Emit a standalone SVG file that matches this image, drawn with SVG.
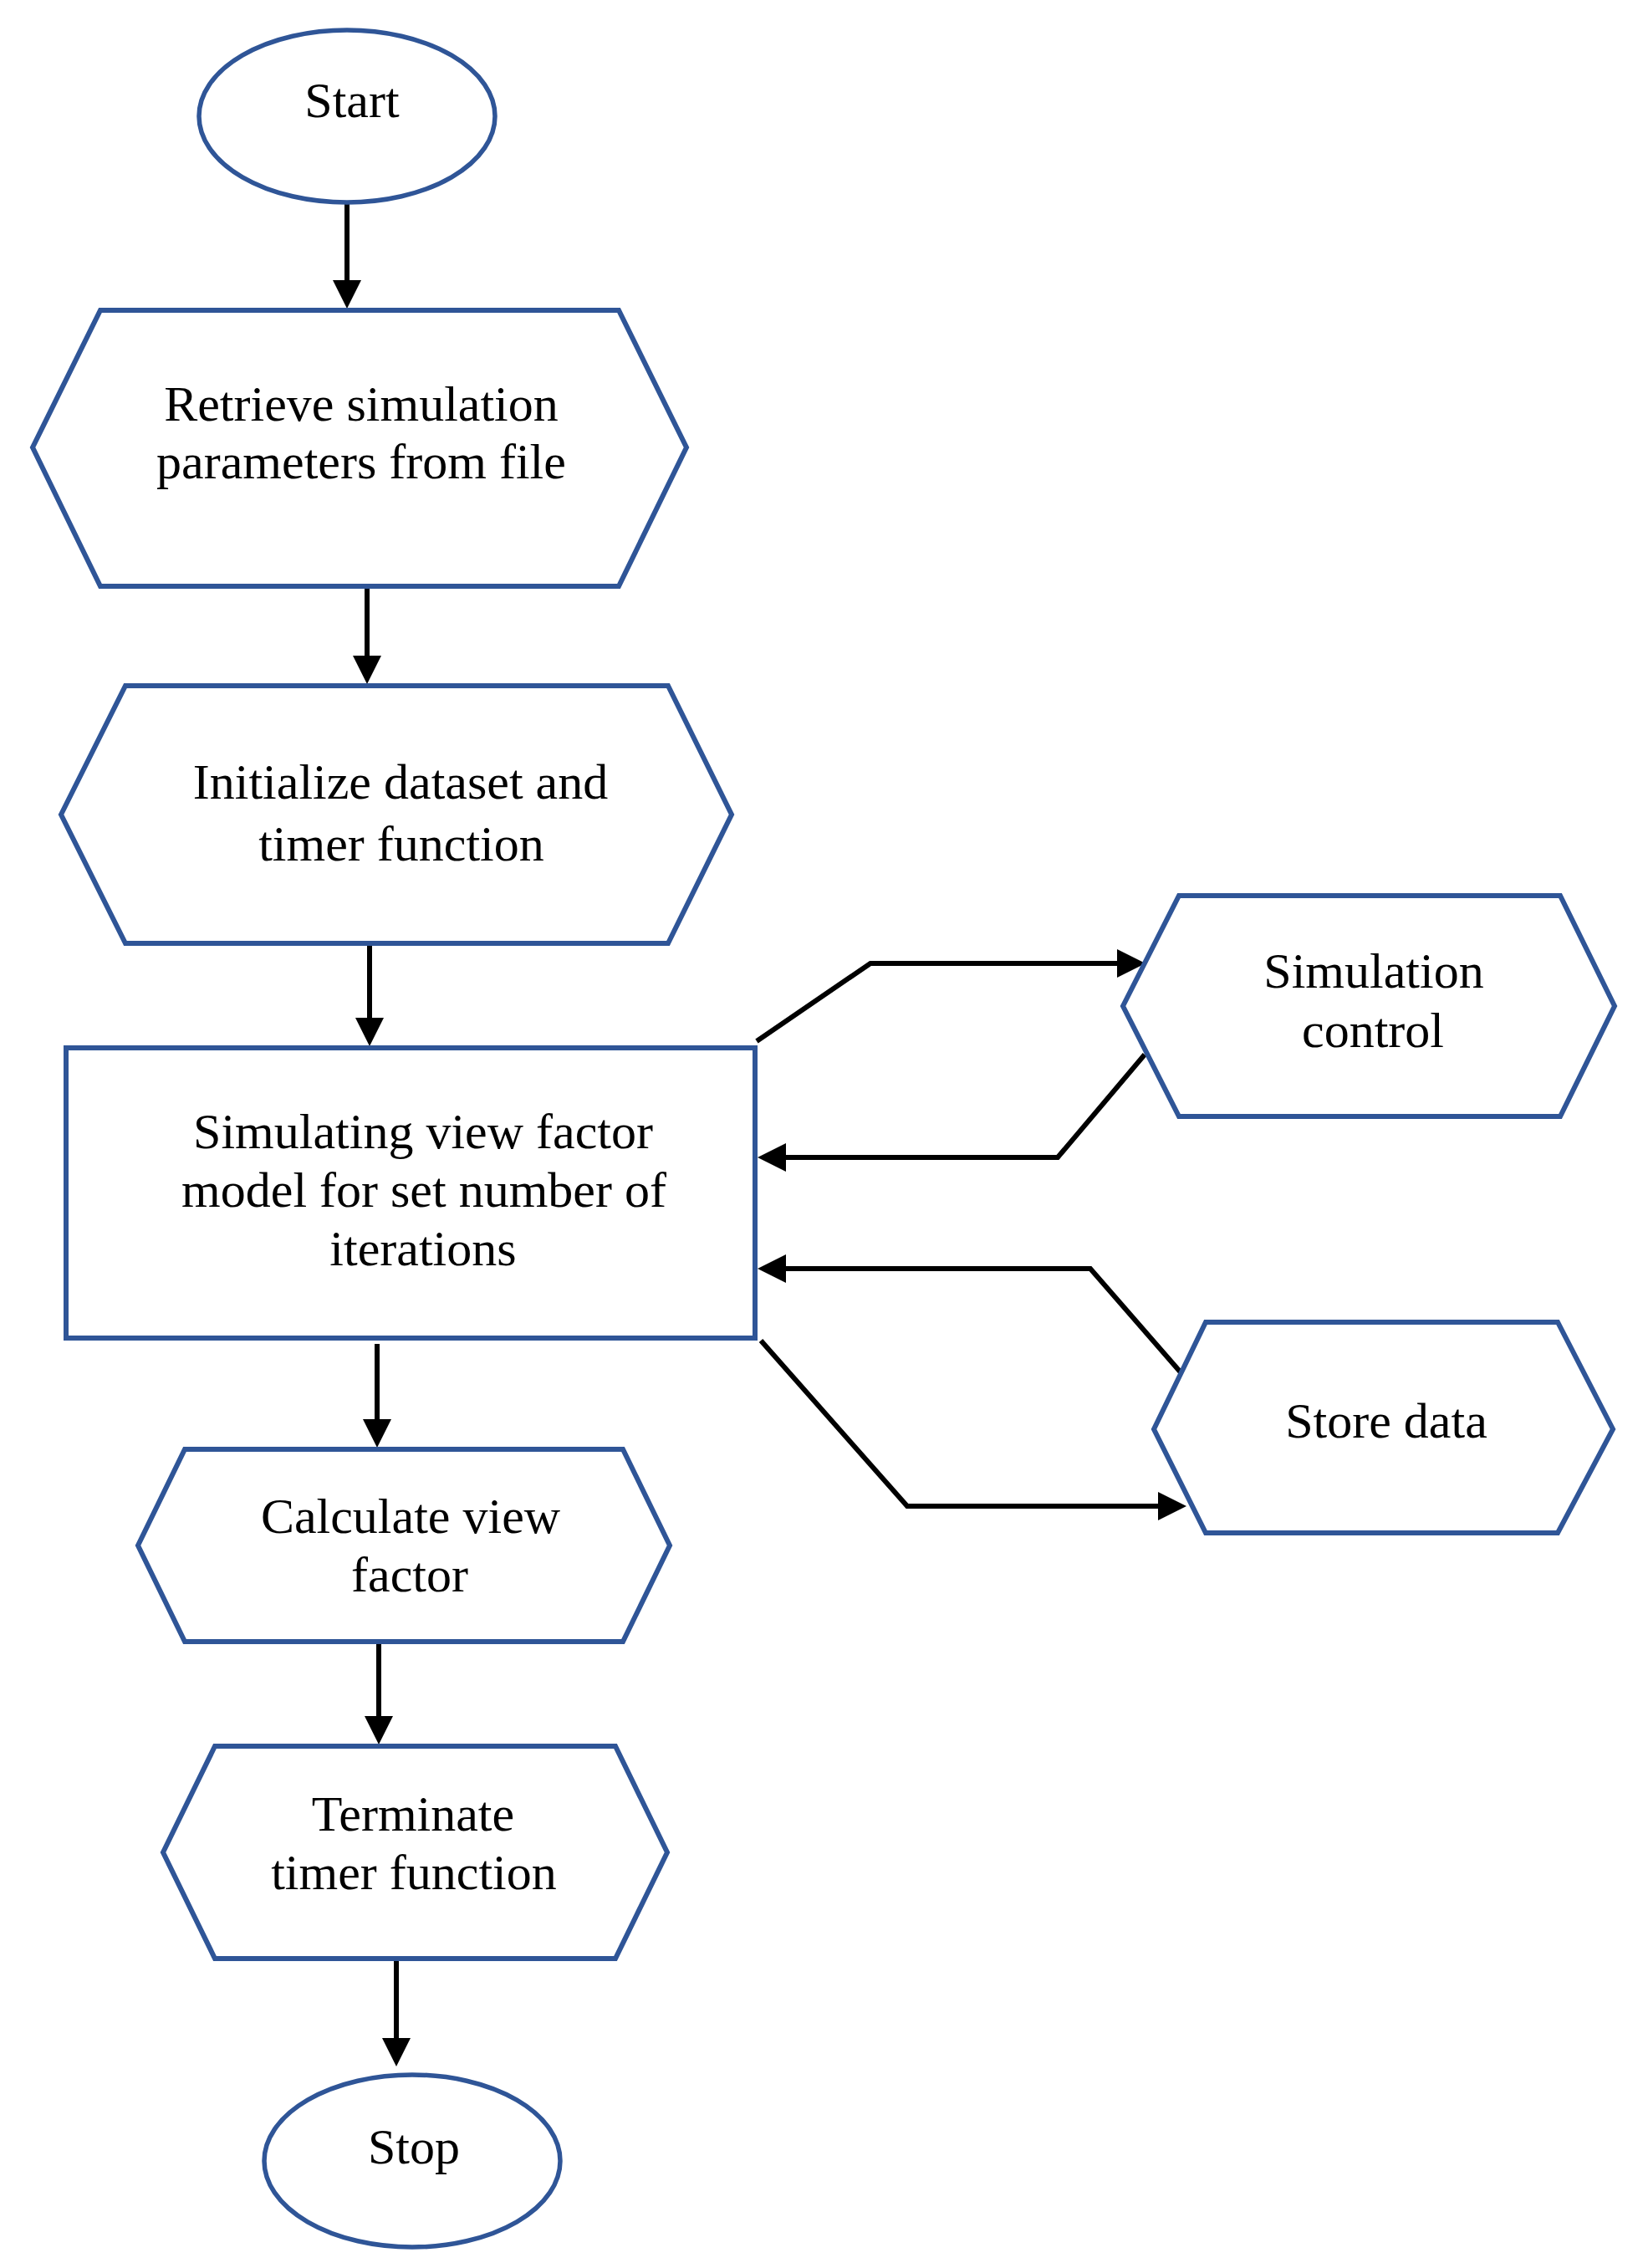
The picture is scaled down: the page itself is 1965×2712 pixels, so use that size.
<svg xmlns="http://www.w3.org/2000/svg" width="1965" height="2712" viewBox="0 0 1965 2712">
<style>
.node{fill:#ffffff;stroke:#2F5597;stroke-width:6;stroke-linejoin:miter}
.term{fill:#ffffff;stroke:#2F5597;stroke-width:5.5}
.lbl{font-family:"Liberation Serif","Times New Roman",serif;font-size:60px;fill:#000000;text-anchor:middle}
.conn{fill:none;stroke:#000000;stroke-width:6;stroke-linejoin:miter}
</style>
<defs>
<marker id="ah" markerUnits="userSpaceOnUse" markerWidth="34" markerHeight="34" refX="0" refY="17" orient="auto" viewBox="0 0 34 34">
<path d="M0,0 L34,17 L0,34 Z" fill="#000000"/>
</marker>
</defs>
<rect width="1965" height="2712" fill="#ffffff"/>
<g id="connectors">
<path class="conn" d="M415,242 L415,335" marker-end="url(#ah)"/>
<path class="conn" d="M439,701 L439,784" marker-end="url(#ah)"/>
<path class="conn" d="M442,1128 L442,1217" marker-end="url(#ah)"/>
<path class="conn" d="M451,1607 L451,1697" marker-end="url(#ah)"/>
<path class="conn" d="M453,1963 L453,2052" marker-end="url(#ah)"/>
<path class="conn" d="M474,2342 L474,2437" marker-end="url(#ah)"/>
<path class="conn" d="M905,1245 L1041,1152 L1336,1152" marker-end="url(#ah)"/>
<path class="conn" d="M1369,1261 L1265,1384 L940,1384" marker-end="url(#ah)"/>
<path class="conn" d="M1412,1641 L1304,1517 L940,1517" marker-end="url(#ah)"/>
<path class="conn" d="M910,1603 L1085,1801 L1385,1801" marker-end="url(#ah)"/>
</g>
<g id="start">
<ellipse class="term" cx="415" cy="139" rx="177" ry="103"/>
<text class="lbl" x="421" y="140">Start</text>
</g>
<g id="retrieve">
<polygon class="node" points="39,535 120,371 740,371 821,535 740,701 120,701"/>
<text class="lbl" x="432" y="503">Retrieve simulation</text>
<text class="lbl" x="432" y="572">parameters from file</text>
</g>
<g id="initialize">
<polygon class="node" points="73,974 150,820 799,820 875,974 799,1128 150,1128"/>
<text class="lbl" x="479" y="955">Initialize dataset and</text>
<text class="lbl" x="480" y="1029">timer function</text>
</g>
<g id="simulate">
<rect class="node" x="79" y="1253" width="824" height="347"/>
<text class="lbl" x="506" y="1373">Simulating view factor</text>
<text class="lbl" x="507" y="1443">model for set number of</text>
<text class="lbl" x="506" y="1513">iterations</text>
</g>
<g id="calculate">
<polygon class="node" points="165,1848 221,1733 745,1733 801,1848 745,1963 221,1963"/>
<text class="lbl" x="491" y="1833">Calculate view</text>
<text class="lbl" x="490" y="1903">factor</text>
</g>
<g id="terminate">
<polygon class="node" points="195,2215 257,2088 736,2088 798,2215 736,2342 257,2342"/>
<text class="lbl" x="494" y="2189">Terminate</text>
<text class="lbl" x="495" y="2259">timer function</text>
</g>
<g id="stop">
<ellipse class="term" cx="493" cy="2584" rx="177" ry="103"/>
<text class="lbl" x="495" y="2587">Stop</text>
</g>
<g id="simcontrol">
<polygon class="node" points="1343,1203 1410,1071 1866,1071 1931,1203 1866,1335 1410,1335"/>
<text class="lbl" x="1643" y="1181">Simulation</text>
<text class="lbl" x="1642" y="1252">control</text>
</g>
<g id="storedata">
<polygon class="node" points="1380,1709 1442,1581 1863,1581 1929,1709 1863,1833 1442,1833"/>
<text class="lbl" x="1658" y="1719">Store data</text>
</g>
</svg>
